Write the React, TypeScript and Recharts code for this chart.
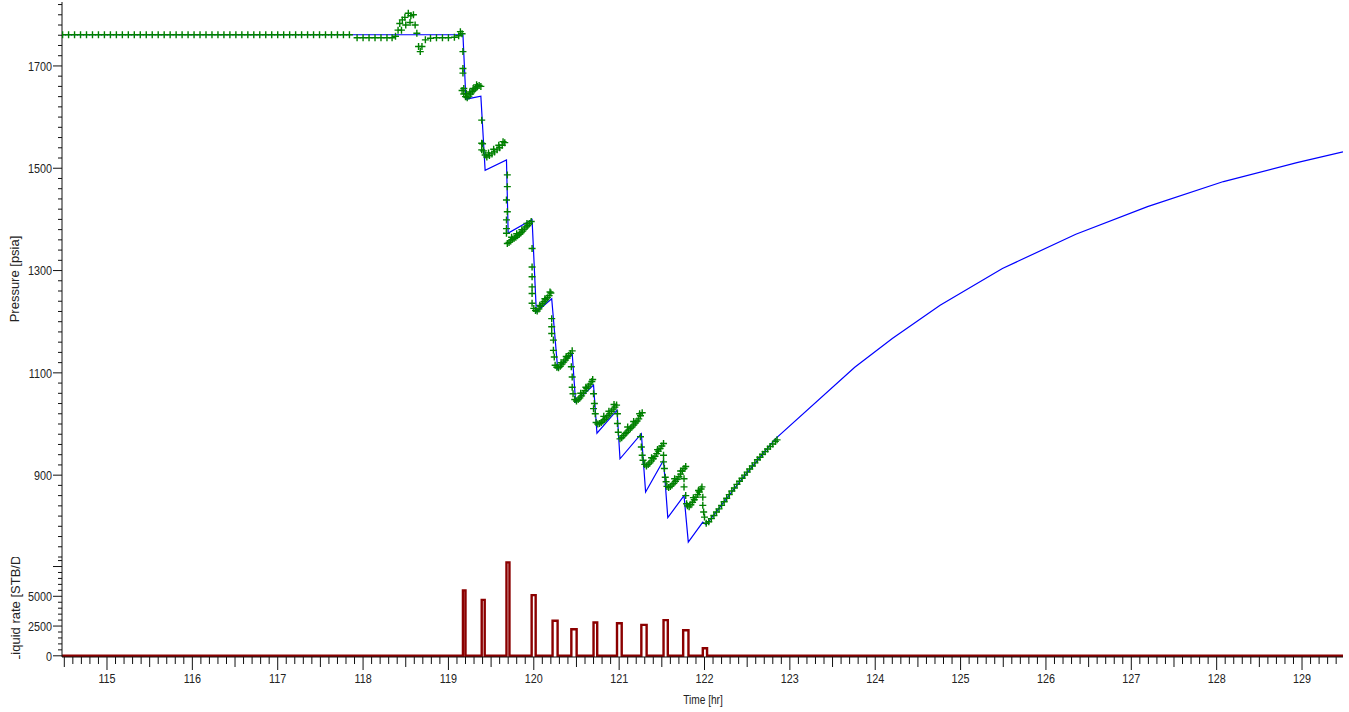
import React from "react";
import { ComposedChart, LineChart, Line, Scatter, XAxis, YAxis } from "recharts";

// time window shown on both panels
const T_MIN = 114.473;
const T_MAX = 129.48;

const hourLabels = [115, 116, 117, 118, 119, 120, 121, 122, 123, 124, 125, 126, 127, 128, 129];
const pressureLabels = [900, 1100, 1300, 1500, 1700];
const rateLabels = [0, 2500, 5000];

// simulated (model) pressure, psia
const modelTime = [
  114.473, 119.17, 119.205, 119.38, 119.43, 119.68, 119.70, 119.98, 120.03, 120.21, 120.28, 120.45,
  120.49, 120.70, 120.74, 120.975, 121.01, 121.26, 121.31, 121.52, 121.57, 121.76, 121.81, 121.98,
  122.02, 122.42, 122.83, 123.76, 124.20, 124.76, 125.49, 126.35, 127.19, 128.08, 128.94, 129.48,
];
const modelPressure = [
  1761, 1761, 1635, 1641, 1496, 1516, 1373, 1400, 1219, 1245, 1108, 1138,
  1043, 1076, 982, 1027, 932, 981, 867, 929, 817, 860, 769, 808,
  803, 889, 971, 1111, 1167, 1232, 1304, 1371, 1425, 1474, 1511, 1532,
];

// gauge readings [hr, psia]
const gaugeReadings: [number, number][] = [
  // stable before the test
  [114.48, 1761], [114.55, 1761], [114.62, 1761], [114.69, 1761], [114.76, 1761], [114.83, 1761],
  [114.90, 1761], [114.97, 1761], [115.04, 1761], [115.11, 1761], [115.18, 1761], [115.25, 1761],
  [115.32, 1761], [115.39, 1761], [115.46, 1761], [115.53, 1761], [115.60, 1761], [115.67, 1761],
  [115.74, 1761], [115.81, 1761], [115.88, 1761], [115.95, 1761], [116.02, 1761], [116.09, 1761],
  [116.16, 1761], [116.23, 1761], [116.30, 1761], [116.37, 1761], [116.44, 1761], [116.51, 1761],
  [116.58, 1761], [116.65, 1761], [116.72, 1761], [116.79, 1761], [116.86, 1761], [116.93, 1761],
  [117.00, 1761], [117.07, 1761], [117.14, 1761], [117.21, 1761], [117.28, 1761], [117.35, 1761],
  [117.42, 1761], [117.49, 1761], [117.56, 1761], [117.63, 1761], [117.70, 1761], [117.77, 1761],
  [117.84, 1761],
  [117.93, 1755], [118.00, 1755], [118.07, 1755], [118.14, 1755], [118.21, 1755], [118.28, 1755], [118.34, 1755],
  // disturbance
  [118.38, 1758], [118.41, 1770], [118.43, 1783], [118.45, 1770], [118.46, 1790], [118.49, 1795], [118.50, 1780],
  [118.53, 1803], [118.55, 1785], [118.56, 1798], [118.59, 1800], [118.61, 1780], [118.63, 1764], [118.65, 1738],
  [118.67, 1728], [118.69, 1738], [118.73, 1751], [118.79, 1754],
  [118.86, 1755], [118.93, 1755], [119.00, 1755], [119.07, 1756], [119.12, 1759], [119.14, 1767], [119.16, 1763],
  // flow period 1
  [119.17, 1728], [119.17, 1695], [119.17, 1686], [119.18, 1656],
  [119.16, 1652], [119.18, 1645], [119.20, 1640], [119.22, 1638], [119.24, 1641], [119.26, 1645],
  [119.28, 1650], [119.30, 1653], [119.32, 1657], [119.34, 1660], [119.36, 1662], [119.38, 1660],
  [119.21, 1646], [119.25, 1649], [119.29, 1656], [119.33, 1663],
  // flow period 2
  [119.39, 1594], [119.39, 1549], [119.39, 1536],
  [119.40, 1548], [119.41, 1534], [119.43, 1526], [119.45, 1522], [119.48, 1525], [119.51, 1528],
  [119.54, 1532], [119.57, 1536], [119.60, 1540], [119.63, 1545], [119.66, 1550],
  [119.47, 1530], [119.53, 1537], [119.59, 1545], [119.64, 1552],
  // flow period 3
  [119.69, 1487], [119.69, 1464], [119.68, 1438], [119.69, 1415], [119.68, 1399], [119.68, 1382], [119.68, 1373],
  [119.69, 1353], [119.71, 1355], [119.73, 1358], [119.75, 1361], [119.77, 1363], [119.79, 1365],
  [119.81, 1368], [119.83, 1371], [119.85, 1374], [119.87, 1377], [119.89, 1381], [119.91, 1385],
  [119.93, 1388], [119.95, 1392], [119.97, 1396],
  [119.74, 1365], [119.80, 1372], [119.86, 1380], [119.92, 1392],
  // flow period 4
  [119.98, 1343], [119.98, 1307], [119.98, 1288], [119.98, 1268], [119.98, 1255], [119.98, 1236],
  [120.00, 1226], [120.02, 1222], [120.04, 1221], [120.06, 1225], [120.08, 1230], [120.10, 1235],
  [120.12, 1239], [120.14, 1243], [120.16, 1247], [120.18, 1251], [120.20, 1256],
  [120.07, 1232], [120.13, 1245], [120.19, 1258],
  // flow period 5
  [120.21, 1206], [120.21, 1190], [120.21, 1177], [120.23, 1164], [120.23, 1144], [120.24, 1131],
  [120.25, 1115], [120.27, 1111], [120.29, 1110], [120.31, 1113], [120.33, 1117], [120.35, 1121],
  [120.37, 1125], [120.39, 1129], [120.41, 1134], [120.43, 1138], [120.45, 1143],
  [120.32, 1120], [120.38, 1132],
  // flow period 6
  [120.44, 1112], [120.45, 1092], [120.45, 1072], [120.46, 1059],
  [120.48, 1048], [120.50, 1045], [120.52, 1048], [120.54, 1051], [120.56, 1055], [120.58, 1060],
  [120.60, 1065], [120.62, 1070], [120.64, 1074], [120.66, 1078], [120.68, 1083], [120.69, 1087],
  [120.55, 1060], [120.61, 1072],
  // flow period 7
  [120.70, 1059], [120.71, 1040], [120.70, 1030], [120.72, 1020],
  [120.73, 1003], [120.75, 1000], [120.77, 1001], [120.79, 1003], [120.81, 1006], [120.83, 1009],
  [120.85, 1012], [120.87, 1016], [120.89, 1020], [120.91, 1025], [120.93, 1029], [120.95, 1033],
  [120.97, 1037], [120.82, 1015], [120.88, 1025], [120.94, 1038],
  // flow period 8
  [120.98, 1020], [120.98, 1001], [120.99, 984],
  [121.01, 971], [121.03, 973], [121.05, 977], [121.07, 981], [121.09, 984], [121.11, 988],
  [121.13, 991], [121.15, 994], [121.17, 998], [121.19, 1002], [121.21, 1006], [121.23, 1010],
  [121.25, 1016], [121.27, 1022], [121.10, 994], [121.17, 1005], [121.24, 1020],
  // flow period 9
  [121.25, 975], [121.26, 955], [121.27, 939], [121.28, 929],
  [121.30, 921], [121.32, 918], [121.34, 921], [121.36, 924], [121.38, 928], [121.40, 932],
  [121.42, 937], [121.44, 942], [121.46, 947], [121.48, 952], [121.50, 957], [121.52, 962],
  [121.38, 934], [121.45, 950],
  // flow period 10
  [121.52, 939], [121.52, 926], [121.53, 913], [121.54, 896], [121.55, 887],
  [121.56, 878], [121.58, 876], [121.60, 878], [121.62, 881], [121.64, 884], [121.66, 888],
  [121.68, 892], [121.70, 897], [121.72, 902], [121.74, 908], [121.76, 913], [121.78, 917],
  [121.65, 893], [121.72, 908],
  // flow period 11
  [121.76, 893], [121.76, 877], [121.78, 860], [121.79, 844],
  [121.80, 840], [121.82, 838], [121.84, 842], [121.86, 847], [121.88, 852], [121.90, 857],
  [121.92, 862], [121.94, 867], [121.96, 873], [121.97, 877], [121.87, 856], [121.93, 870],
  // last pulse and build-up
  [121.98, 857], [121.98, 841], [121.99, 828], [122.00, 818],
  [122.02, 806], [122.05, 809], [122.08, 815], [122.11, 821], [122.14, 828], [122.17, 834],
  [122.20, 841], [122.23, 848], [122.26, 855], [122.29, 862], [122.32, 869], [122.35, 875],
  [122.38, 882], [122.41, 888], [122.44, 894], [122.47, 900], [122.50, 906], [122.53, 912],
  [122.56, 918], [122.59, 924], [122.62, 930], [122.65, 935], [122.68, 941], [122.71, 946],
  [122.74, 951], [122.77, 956], [122.80, 961], [122.83, 966], [122.85, 969],
];

// liquid rate pulses, STB/D
const pulseStart = [119.17, 119.39, 119.68, 119.975, 120.22, 120.44, 120.70, 120.975, 121.26, 121.52, 121.75, 121.98];
const pulseEnd = [119.20, 119.425, 119.715, 120.022, 120.279, 120.502, 120.743, 121.03, 121.322, 121.57, 121.812, 122.03];
const pulseRate = [5500, 4700, 7850, 5100, 2950, 2230, 2800, 2730, 2600, 3000, 2150, 630];

const modelData = modelTime.map((t, i) => ({ t, p: modelPressure[i] }));
const gaugeData = gaugeReadings.map(([t, p]) => ({ t, p }));
const rateData = [{ t: T_MIN, q: 0 }];
pulseStart.forEach((s, i) => {
  rateData.push({ t: s, q: pulseRate[i] });
  rateData.push({ t: pulseEnd[i], q: 0 });
});
rateData.push({ t: T_MAX, q: 0 });

const pressureTicks: number[] = [];
for (let v = 740; v <= 1820; v += 20) pressureTicks.push(v);
const rateTicks: number[] = [];
for (let v = 0; v <= 8000; v += 500) rateTicks.push(v);
const hourTicks: number[] = [];
for (let i = 0; i < 150; i++) hourTicks.push(Math.round((114.5 + i * 0.1) * 10) / 10);

const AXIS = "#111";
const FONT = "'Liberation Sans', Arial, sans-serif";
// tick labels in the original are a narrow face; squeeze the regular one
const NARROW = 0.8;

function PressureTick(props: any) {
  const { x, y, payload } = props;
  const v = payload.value;
  const labelled = pressureLabels.includes(v);
  const len = labelled ? 9 : 4;
  return (
    <g>
      <line x1={x - len} x2={x} y1={y} y2={y} stroke={AXIS} />
      {labelled && (
        <text
          transform={`translate(${x - len - 1},${y + 4.8}) scale(${NARROW},1)`}
          textAnchor="end"
          fontSize={13.5}
          fontFamily={FONT}
          fill="#222"
        >
          {v}
        </text>
      )}
    </g>
  );
}

function RateTick(props: any) {
  const { x, y, payload } = props;
  const v = payload.value;
  const labelled = rateLabels.includes(v);
  const len = v % 2500 === 0 ? 9 : 4;
  return (
    <g>
      <line x1={x - len} x2={x} y1={y} y2={y} stroke={AXIS} />
      {labelled && (
        <text
          transform={`translate(${x - len - 1},${y + 4.8}) scale(${NARROW},1)`}
          textAnchor="end"
          fontSize={13.5}
          fontFamily={FONT}
          fill="#222"
        >
          {v}
        </text>
      )}
    </g>
  );
}

function HourTick(props: any) {
  const { x, y, payload } = props;
  const v = payload.value;
  const whole = Math.abs(v - Math.round(v)) < 1e-6;
  const half = !whole && Math.abs(v * 2 - Math.round(v * 2)) < 1e-6;
  const len = whole ? 13 : half ? 10 : 7;
  return (
    <g>
      <line x1={x} x2={x} y1={y} y2={y + len} stroke={AXIS} />
      {whole && (
        <text
          transform={`translate(${x},${y + 26}) scale(${NARROW},1)`}
          textAnchor="middle"
          fontSize={13.5}
          fontFamily={FONT}
          fill="#222"
        >
          {Math.round(v)}
        </text>
      )}
    </g>
  );
}

function Plus(props: any) {
  const { cx, cy } = props;
  if (cx == null || cy == null) return null;
  return (
    <path
      d={`M${cx - 3.5} ${cy}H${cx + 3.5}M${cx} ${cy - 3.5}V${cy + 3.5}`}
      stroke="#008000"
      strokeWidth={1.4}
      fill="none"
    />
  );
}

export default function App() {
  return (
    <div style={{ position: "absolute", left: 0, top: 0, width: 1349, height: 712, background: "#fff" }}>
      <div style={{ position: "absolute", left: 0, top: 0 }}>
        <ComposedChart width={1349} height={558} margin={{ top: 2, right: 6, bottom: 1, left: 0 }}>
          <XAxis
            type="number"
            dataKey="t"
            domain={[T_MIN, T_MAX]}
            allowDataOverflow
            height={0}
            tick={false}
            tickLine={false}
            axisLine={{ stroke: AXIS }}
          />
          <XAxis
            xAxisId="frameTop"
            orientation="top"
            type="number"
            domain={[T_MIN, T_MAX]}
            height={0}
            tick={false}
            tickLine={false}
            axisLine={{ stroke: "#333" }}
          />
          <YAxis
            type="number"
            dataKey="p"
            domain={[740, 1825]}
            allowDataOverflow
            ticks={pressureTicks}
            interval={0}
            tick={PressureTick}
            tickLine={false}
            tickSize={0}
            tickMargin={0}
            width={62}
            axisLine={{ stroke: AXIS }}
          />
          <YAxis
            yAxisId="frameRight"
            orientation="right"
            type="number"
            domain={[740, 1825]}
            width={0}
            tick={false}
            tickLine={false}
            axisLine={{ stroke: "#333" }}
          />
          <Scatter data={gaugeData} shape={Plus} isAnimationActive={false} />
          <Line
            data={modelData}
            dataKey="p"
            type="linear"
            stroke="#0000ff"
            strokeWidth={1.2}
            dot={false}
            isAnimationActive={false}
          />
        </ComposedChart>
      </div>
      <div style={{ position: "absolute", left: 0, top: 557 }}>
        <LineChart width={1349} height={155} data={rateData} margin={{ top: 0, right: 6, bottom: 0, left: 0 }}>
          <XAxis
            type="number"
            dataKey="t"
            domain={[T_MIN, T_MAX]}
            allowDataOverflow
            ticks={hourTicks}
            interval={0}
            tick={HourTick}
            tickLine={false}
            tickSize={0}
            tickMargin={0}
            height={55}
            axisLine={{ stroke: AXIS }}
          />
          <YAxis
            type="number"
            domain={[-100, 8300]}
            allowDataOverflow
            ticks={rateTicks}
            interval={0}
            tick={RateTick}
            tickLine={false}
            tickSize={0}
            tickMargin={0}
            width={62}
            axisLine={{ stroke: AXIS }}
          />
          <YAxis
            yAxisId="frameRight"
            orientation="right"
            type="number"
            domain={[-100, 8300]}
            width={0}
            tick={false}
            tickLine={false}
            axisLine={{ stroke: "#333" }}
          />
          <Line
            dataKey="q"
            type="stepAfter"
            stroke="#8b0000"
            strokeWidth={2.4}
            dot={false}
            isAnimationActive={false}
          />
        </LineChart>
      </div>
      <div
        style={{
          position: "absolute",
          left: 14,
          top: 279,
          transform: "translate(-50%, -50%) rotate(-90deg)",
          whiteSpace: "nowrap",
          fontFamily: FONT,
          fontSize: 13,
          color: "#222",
        }}
      >
        Pressure [psia]
      </div>
      <div style={{ position: "absolute", left: 0, top: 557, width: 30, height: 102, overflow: "hidden" }}>
        <div
          style={{
            position: "absolute",
            left: 15,
            top: 50,
            transform: "translate(-50%, -50%) rotate(-90deg)",
            whiteSpace: "nowrap",
            fontFamily: FONT,
            fontSize: 13,
            color: "#222",
          }}
        >
          Liquid rate [STB/D]
        </div>
      </div>
      <div
        style={{
          position: "absolute",
          left: 703,
          top: 699,
          transform: "translate(-50%, -50%) scaleX(0.78)",
          whiteSpace: "nowrap",
          fontFamily: FONT,
          fontSize: 13,
          color: "#222",
        }}
      >
        Time [hr]
      </div>
    </div>
  );
}
